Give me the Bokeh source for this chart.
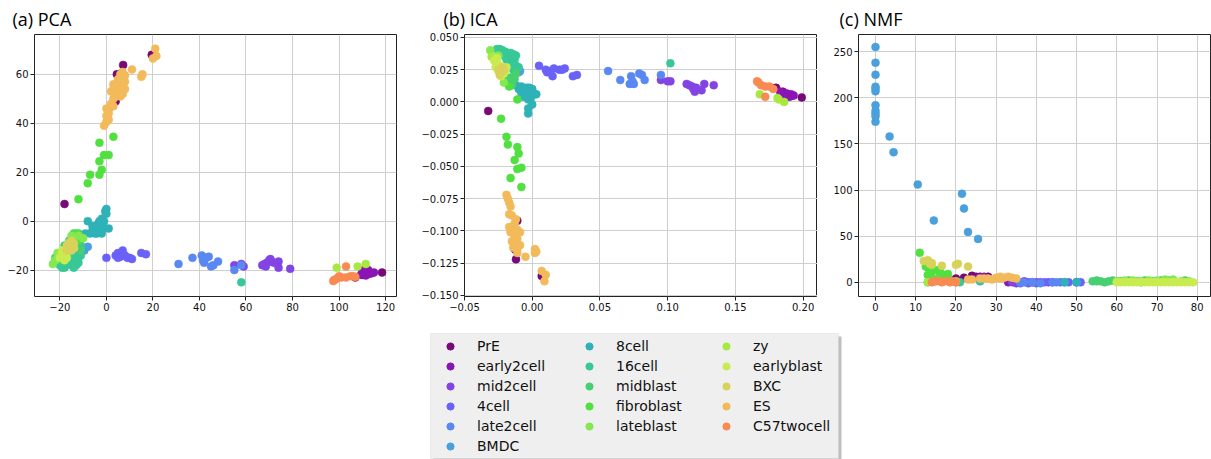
from bokeh.plotting import figure
from bokeh.layouts import column, row
from bokeh.models import (Range1d, FixedTicker, CustomJSTickFormatter, Legend, LegendItem,
                          BoxAnnotation)
from bokeh.embed import file_html
from bokeh.resources import INLINE

# ---------------- categories & colours ----------------
categories = ["PrE", "early2cell", "mid2cell", "4cell", "late2cell", "BMDC", "8cell", "16cell",
              "midblast", "fibroblast", "lateblast", "zy", "earlyblast", "BXC", "ES", "C57twocell"]
colors = ["#780a78", "#8a14b4", "#8244e2", "#6a62f8", "#5a88f2", "#4aa0dc", "#2eb2b8", "#38c898",
          "#48d070", "#50e040", "#84e850", "#a8e840", "#c8ec50", "#d8d25a", "#f2ba5a", "#f88a52"]

# ---------------- (a) PCA ----------------
pca_PrE_x = [-18, 7.2, 19.5, 4.5, 6.5, 4, 107, 110, 113, 118.5]
pca_PrE_y = [7, 63.8, 68, 60, 60.5, 49, -23, -22, -21.5, -21]
pca_early2cell_x = [110, 111, 112, 113, 114, 111.5, 110.5, 115, 112.5, 109.5]
pca_early2cell_y = [-21, -20.5, -21.5, -20.8, -21.3, -22.2, -20, -21, -20, -21.8]
pca_mid2cell_x = [55, 58, 59, 67, 68, 69, 70, 70.5, 71, 72, 74, 74, 79, 68.5]
pca_mid2cell_y = [-18, -17.5, -18.5, -18, -17.5, -17, -16, -15.5, -16.5, -17, -16.5, -19, -19.5, -18.5]
pca_4cell_x = [0, 4, 5, 5, 6, 7, 8, 9, 10, 11, 15, 17]
pca_4cell_y = [-15, -14, -13, -15, -14.5, -12, -14, -15, -15, -15.5, -13, -13.5]
pca_late2cell_x = [31, 37, 41, 41.5, 42, 43, 44, 45, 46, 48, 55, 58]
pca_late2cell_y = [-17.5, -15, -14, -16, -17, -15, -14.5, -18.5, -18, -16.5, -20, -18]
pca_BMDC_x = [-8, -9.5]
pca_BMDC_y = [-10.5, -12]
pca_8cell_x = [0, -0.5, 0, -1, -2, -3, -4, -5, -6, -7, -5, -3, -2, -1, 1, -8, -2, -4, -6, -9, -10, -3.5, -1.5]
pca_8cell_y = [5, 4, 3, 0, 1, 0, -2, -3, -4, -5, -5, -4, -5, -3, -3, 0, -1, -5, -2, -5, -6, -1, -2]
pca_16cell_x = [-20, -19, -18, -17, -16, -15, -14, -13, -12, -13, -15, -17, -14, -12, -11, -16, -18, -11, 58, -19, -14, -12]
pca_16cell_y = [-18, -19, -19, -18, -17, -18, -17, -16, -15, -18, -16, -15, -13, -12, -14, -14, -16, -10, -25, -17, -19, -17]
pca_midblast_x = [-19, -18, -16, -15, -13, -12, -14, -11, -20, -22, -13, -11]
pca_midblast_y = [-13, -10, -8, -7, -6, -5, -5, -7, -16, -15, -9, -12]
pca_fibroblast_x = [-12, -8, -7, -3, -2, -3, -3, -1, 1, 3, -13, -12]
pca_fibroblast_y = [9, 15.5, 19, 19, 21, 24.5, 32, 27, 27, 34.5, -5, -8]
pca_lateblast_x = [-23, -22, -21, -15, -12, -10]
pca_lateblast_y = [-17.5, -16, -13, -6, -6, -7]
pca_zy_x = [99, 108, 111.5, -20]
pca_zy_y = [-19, -18.5, -17.5, -14]
pca_earlyblast_x = [-20, -19, -18, -17, -16, -15, -17, -18, -14, -16, -19]
pca_earlyblast_y = [-15, -12, -13, -11, -12, -10, -15, -16, -11, -9, -14]
pca_BXC_x = [-17, -16, -15, -14, -16, -15, -17, -14]
pca_BXC_y = [-10, -9, -8, -9, -11, -12, -12, -11]
pca_ES_x = [-1, 0, 1, 0, 1, 0, 1, 2, 3, 3, 4, 4, 5, 4, 5, 6, 6, 7, 7, 8, 8, 5, 3, 6, 7, 11, 15, 15.5, 20, 21.5, 21, 2, 3, 6, 8]
pca_ES_y = [39, 40.5, 41.5, 43, 44, 46, 45.5, 48, 47, 50, 51, 53, 54, 55, 56, 55, 57, 52, 53, 57, 59.5, 58, 56, 60, 61, 62, 59, 60, 66.5, 67.5, 70.5, 53, 54, 51, 54]
pca_C57twocell_x = [97.5, 98, 99, 100, 101, 103, 103, 105, 106, 107]
pca_C57twocell_y = [-24.5, -24, -23.5, -22.5, -23, -23, -18.5, -22.5, -22.5, -22.8]

# ---------------- (b) ICA ----------------
ica_PrE_x = [-0.0325, -0.012, -0.012, -0.011, 0.007, -0.013, 0.185, 0.187, 0.19, 0.192, 0.188, 0.18, 0.199]
ica_PrE_y = [-0.007, -0.122, -0.115, -0.092, -0.135, -0.114, 0.008, 0.006, 0.005, 0.005, 0.004, 0.011, 0.0035]
ica_early2cell_x = [0.186, 0.188, 0.189, 0.191, 0.185, 0.183, 0.190, 0.193]
ica_early2cell_y = [0.007, 0.0065, 0.005, 0.006, 0.005, 0.008, 0.004, 0.005]
ica_mid2cell_x = [0.095, 0.100, 0.102, 0.114, 0.116, 0.118, 0.119, 0.120, 0.121, 0.125, 0.127, 0.134]
ica_mid2cell_y = [0.017, 0.016, 0.016, 0.014, 0.013, 0.012, 0.010, 0.008, 0.011, 0.009, 0.014, 0.013]
ica_4cell_x = [0.005, 0.010, 0.011, 0.013, 0.015, 0.016, 0.020, 0.022, 0.024, 0.030, 0.033]
ica_4cell_y = [0.028, 0.025, 0.023, 0.024, 0.020, 0.026, 0.025, 0.025, 0.026, 0.020, 0.021]
ica_late2cell_x = [0.056, 0.065, 0.072, 0.073, 0.074, 0.075, 0.079, 0.081, 0.083, 0.095]
ica_late2cell_y = [0.024, 0.017, 0.014, 0.020, 0.016, 0.014, 0.022, 0.021, 0.017, 0.021]
ica_BMDC_x = [-0.010, -0.009]
ica_BMDC_y = [0.023, 0.024]
ica_8cell_x = [-0.012, -0.010, -0.008, -0.006, -0.004, -0.002, 0.000, 0.002, 0.003, -0.005, -0.003, -0.007, -0.001, 0.000, -0.003, -0.003, -0.008, -0.002]
ica_8cell_y = [0.013, 0.010, 0.012, 0.009, 0.011, 0.008, 0.010, 0.006, 0.006, 0.005, 0.002, 0.004, 0.003, -0.002, -0.005, -0.009, 0.007, 0.011]
ica_16cell_x = [-0.026, -0.024, -0.022, -0.020, -0.018, -0.016, -0.014, -0.012, -0.013, -0.015, -0.017, -0.019, -0.012, -0.010, -0.014, -0.016, -0.021, 0.102]
ica_16cell_y = [0.041, 0.041, 0.040, 0.039, 0.038, 0.038, 0.037, 0.036, 0.033, 0.031, 0.030, 0.033, 0.028, 0.027, 0.025, 0.036, 0.036, 0.030]
ica_midblast_x = [-0.020, -0.018, -0.015, -0.013, -0.016, -0.022, -0.012]
ica_midblast_y = [0.016, 0.014, 0.013, 0.018, 0.019, 0.020, 0.022]
ica_fibroblast_x = [-0.023, -0.019, -0.018, -0.011, -0.010, -0.013, -0.011, -0.008, -0.016, -0.008, -0.011, -0.017]
ica_fibroblast_y = [-0.013, -0.027, -0.033, -0.035, -0.040, -0.045, -0.052, -0.051, -0.059, -0.066, 0.002, 0.012]
ica_lateblast_x = [-0.031, -0.025, -0.021]
ica_lateblast_y = [0.040, 0.036, 0.015]
ica_zy_x = [0.168, 0.181, 0.182, 0.186, -0.030]
ica_zy_y = [0.006, 0.003, 0.002, 0.000, 0.035]
ica_earlyblast_x = [-0.028, -0.026, -0.024, -0.022, -0.025, -0.021, -0.023, -0.027, -0.019, -0.020, -0.026]
ica_earlyblast_y = [0.032, 0.030, 0.028, 0.026, 0.024, 0.022, 0.020, 0.027, 0.027, 0.024, 0.034]
ica_BXC_x = [-0.025, -0.023, -0.022, -0.024, -0.021]
ica_BXC_y = [0.025, 0.023, 0.027, 0.021, 0.025]
ica_ES_x = [-0.019, -0.018, -0.017, -0.016, -0.017, -0.015, -0.012, -0.013, -0.014, -0.011, -0.016, -0.009, -0.013, -0.011, -0.015,
            -0.012, -0.009, -0.014, -0.011, -0.011, 0.002, 0.003, 0.002, -0.005, 0.007, 0.010, 0.009, -0.017, -0.013]
ica_ES_y = [-0.072, -0.075, -0.078, -0.081, -0.087, -0.088, -0.091, -0.094, -0.097, -0.099, -0.101, -0.101, -0.104, -0.106, -0.108,
            -0.110, -0.111, -0.113, -0.114, -0.117, -0.114, -0.116, -0.117, -0.120, -0.131, -0.134, -0.139, -0.097, -0.101]
ica_C57twocell_x = [0.166, 0.167, 0.169, 0.172, 0.175, 0.178, 0.172]
ica_C57twocell_y = [0.016, 0.015, 0.013, 0.012, 0.012, 0.010, 0.004]

# ---------------- (c) NMF ----------------
nmf_PrE_x = [20, 25, 26, 24, 27, 28, 22, 17, 18]
nmf_PrE_y = [4, 6, 6, 7, 5, 6, 5, 2, 3]
nmf_early2cell_x = [33, 34, 25.5, 27]
nmf_early2cell_y = [0, 1, 5, 6]
nmf_mid2cell_x = [34, 35, 37, 38, 39, 40, 41, 43]
nmf_mid2cell_y = [0, -1, 1, 0, 0, 0, 0, 0]
nmf_4cell_x = [36, 38, 40, 42, 44, 46, 48, 50, 51]
nmf_4cell_y = [-1, -1, -1, 0, 0, 0, 0, 0, 0]
nmf_late2cell_x = [36, 37, 39, 41, 44, 45, 47, 50]
nmf_late2cell_y = [0, 0, 0, -1, 0, 0, 0, 0]
nmf_BMDC_x = [0, 0, 0, 0, 0, 0, 0, 0, 0, 0, 0, 3.5, 4.5, 10.5, 14.5, 21.5, 22, 23, 25.5]
nmf_BMDC_y = [255, 238, 225, 212, 210, 207, 192, 186, 183, 180, 174, 158, 141, 106, 67, 96, 80, 54.5, 47]
nmf_8cell_x = [13, 20, 26, 47, 50]
nmf_8cell_y = [0, 0, 1, 0, 0]
nmf_16cell_x = [26, 21, 55]
nmf_16cell_y = [2, 0, 1]
nmf_midblast_x = [54, 55, 56, 57, 58, 59, 60, 61, 62, 63, 64, 65, 66, 67, 69, 71, 73, 74, 77]
nmf_midblast_y = [1, 2, 1, 0, 1, 2, 1, 1, 1, 2, 1, 1, 0, 2, 1, 2, 2, 2, 2]
nmf_fibroblast_x = [11, 13, 14, 15, 13, 14, 16, 17, 18, 15, 12.5, 16, 18]
nmf_fibroblast_y = [32, 16, 12, 13, 8, 5, 10, 8, 5, 3, 17, 14, 9]
nmf_lateblast_x = [60, 62, 64, 66, 68, 70, 72, 74, 76, 78]
nmf_lateblast_y = [1, 2, 2, 1, 2, 2, 3, 3, 1, 1]
nmf_zy_x = [13, 20]
nmf_zy_y = [0, 1]
nmf_earlyblast_x = [60, 61, 62, 63, 64, 65, 66, 67, 68, 69, 70, 71, 72, 73, 74, 75, 76, 77, 78, 79]
nmf_earlyblast_y = [0, 0, 0, 0, 0, 0, 0, 0, 0, 0, 0, 0, 0, 0, 0, 0, 0, 0, 0, 0]
nmf_BXC_x = [12, 13, 14, 13.5, 14, 16.5, 20, 20.5, 23]
nmf_BXC_y = [23, 24, 21, 20, 19, 18, 19, 20, 17]
nmf_ES_x = [24, 26, 28, 30, 31, 32, 33, 34, 29, 35, 27, 23, 31]
nmf_ES_y = [3, 4, 4, 5, 6, 5, 6, 5, 3, 4, 4, 3, 4]
nmf_C57twocell_x = [14, 15, 16, 17, 18, 19, 20, 14.5, 16.5, 18.5]
nmf_C57twocell_y = [0, 1, 1, 1, 1, 1, 0, 1, 0, 0]

# tick values
pca_xticks = [-20, 0, 20, 40, 60, 80, 100, 120]
pca_yticks = [-20, 0, 20, 40, 60]
ica_xticks = [-0.05, 0.0, 0.05, 0.10, 0.15, 0.20]
ica_yticks = [-0.150, -0.125, -0.100, -0.075, -0.050, -0.025, 0.0, 0.025, 0.050]
nmf_xticks = [0, 10, 20, 30, 40, 50, 60, 70, 80]
nmf_yticks = [0, 50, 100, 150, 200, 250]

g = globals()
PCA = {c: (g["pca_%s_x" % c], g["pca_%s_y" % c]) for c in categories}
ICA = {c: (g["ica_%s_x" % c], g["ica_%s_y" % c]) for c in categories}
NMF = {c: (g["nmf_%s_x" % c], g["nmf_%s_y" % c]) for c in categories}

TOP_H = 318


def fmt(dec):
    return CustomJSTickFormatter(code=(
        "const s = Math.abs(tick).toFixed(%d);"
        "return (tick < -1e-12 ? '\\u2212' : '') + s;" % dec))


def panel(title, data, width, xr, yr, xt, yt, xd, yd, bl, br, toff):
    p = figure(width=width, height=TOP_H, x_range=Range1d(*xr), y_range=Range1d(*yr),
               output_backend="svg", toolbar_location=None,
               min_border_left=bl, min_border_right=br, min_border_top=32, min_border_bottom=22)
    p.title.text = title
    p.title.text_font = "Open Sans"
    p.title.text_font_size = "18px"
    p.title.text_font_style = "normal"
    p.title.text_color = "#000000"
    p.title.align = "left"
    p.title.offset = toff
    p.title.standoff = 8
    p.outline_line_color = "#222222"
    p.outline_line_width = 1
    p.background_fill_color = "white"
    for ax, ticks, d in ((p.xaxis[0], xt, xd), (p.yaxis[0], yt, yd)):
        ax.ticker = FixedTicker(ticks=ticks)
        ax.formatter = fmt(d)
        ax.minor_tick_line_color = None
        ax.major_tick_in = 0
        ax.major_tick_out = 4
        ax.major_tick_line_color = "#222222"
        ax.axis_line_color = None
        ax.major_label_text_font = "DejaVu Sans"
        ax.major_label_text_font_size = "10px"
        ax.major_label_text_color = "#111111"
        ax.major_label_standoff = 2
    for gr in (p.xgrid[0], p.ygrid[0]):
        gr.grid_line_color = "#cfcfcf"
        gr.grid_line_width = 1
    for c, col in zip(categories, colors):
        xs, ys = data[c]
        p.scatter(xs, ys, size=8, fill_color=col, line_color=col, line_width=0.5)
    return p


pa = panel("(a) PCA", PCA, 400, (-30.9, 124.7), (-30.8, 76.3), pca_xticks, pca_yticks, 0, 0, 34, 4, -22)
pb = panel("(b) ICA", ICA, 417, (-0.05, 0.2106), (-0.1508, 0.0523), ica_xticks, ica_yticks, 2, 3, 64, 0, -21)
pc = panel("(c) NMF", NMF, 394, (-4.23, 83.3), (-15.4, 268.6), nmf_xticks, nmf_yticks, 0, 0, 41, 1, -19)

# ---------------- legend ----------------
LH = 459 - TOP_H
lf = figure(width=1211, height=LH, x_range=Range1d(0, 1211), y_range=Range1d(0, LH),
            output_backend="svg", toolbar_location=None, min_border=0,
            x_axis_location=None, y_axis_location=None)
lf.outline_line_color = None
lf.xgrid.visible = False
lf.ygrid.visible = False
lf.add_layout(BoxAnnotation(left=433, right=841, bottom=-2, top=123, fill_color="#8a8a8a",
                            fill_alpha=0.55, line_color=None, level="underlay"))
lf.add_layout(BoxAnnotation(left=430, right=838, bottom=1, top=126, fill_color="#efefef",
                            fill_alpha=1.0, line_color="#cccccc", line_width=1, level="underlay"))
nan = float("nan")
rends = {}
for c, col in zip(categories, colors):
    # placeholder renderer (a single NaN point, never drawn) used only for the legend swatch
    rends[c] = lf.scatter(x=[nan], y=[nan], size=8, fill_color=col, line_color=col)

col_groups = [(categories[0:6], 440, 4), (categories[6:11], 579, 24), (categories[11:16], 716, 24)]
for items, lx, ly in col_groups:
    leg = Legend(items=[LegendItem(label=c, renderers=[rends[c]], index=0) for c in items],
                 location=(lx, ly), orientation="vertical", padding=0, margin=0, spacing=2,
                 glyph_width=20, glyph_height=18, label_height=18, label_standoff=17,
                 border_line_color=None, background_fill_alpha=0,
                 label_text_font="DejaVu Sans", label_text_font_size="14px",
                 label_text_color="#111111")
    lf.add_layout(leg, "center")

layout = column(row(pa, pb, pc, spacing=0), lf, spacing=0)

with open("out.html", "w") as f:
    f.write(file_html(layout, INLINE))
